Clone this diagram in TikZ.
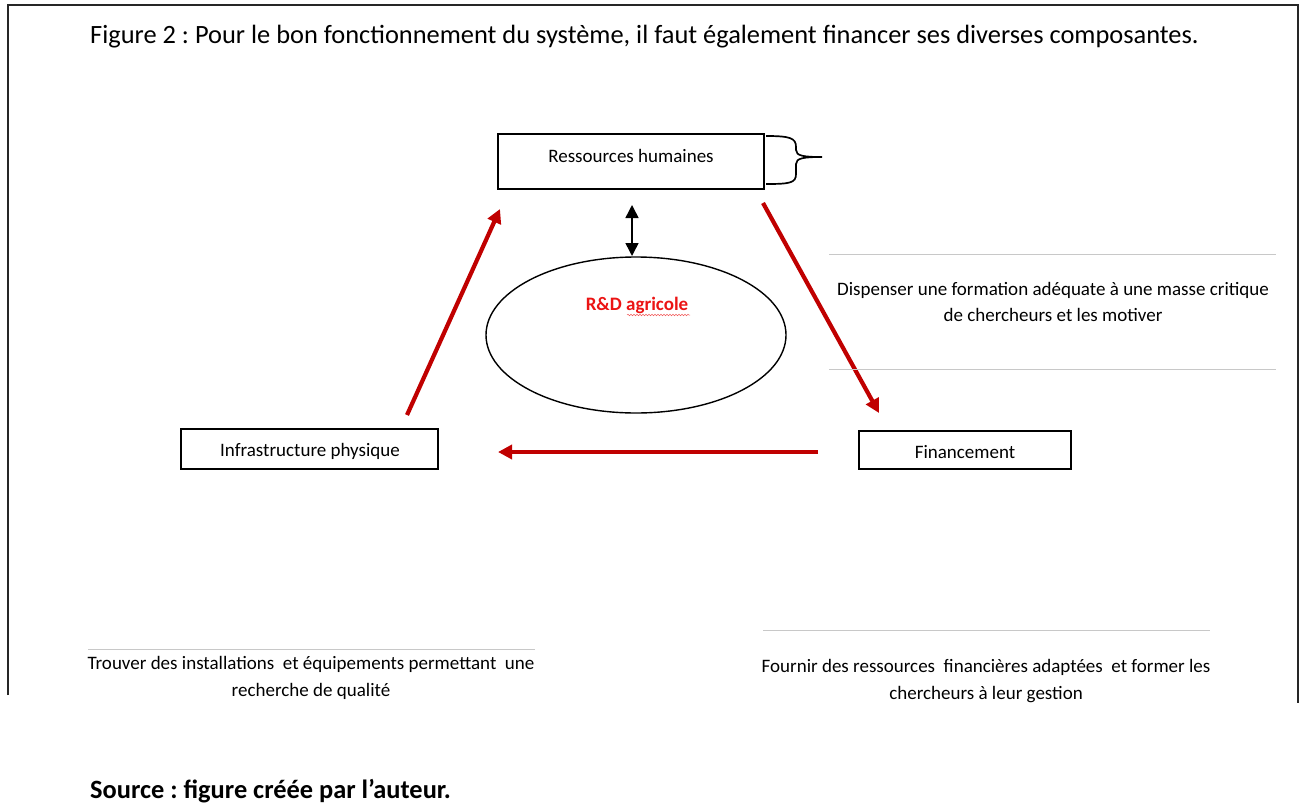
\documentclass[tikz,border=0pt]{standalone}
\usepackage{fontspec}
\setmainfont{Carlito}
\usetikzlibrary{arrows.meta,shapes.geometric,decorations.pathmorphing}
\definecolor{arrred}{RGB}{192,0,0}
\definecolor{txtred}{RGB}{235,20,20}
\definecolor{rulegray}{RGB}{200,200,200}
\frenchspacing
\tikzset{
  boxnode/.style={draw=black, line width=1.2pt, rectangle, inner sep=0pt},
  lbl/.style={font=\fontsize{19}{22}\selectfont, inner sep=0pt},
  desc/.style={font=\fontsize{19}{26.5}\selectfont, align=center, inner sep=0pt},
  redarrow/.style={draw=arrred, line width=4.2pt, -{Triangle[length=14pt,width=14pt]}},
  grayrule/.style={draw=rulegray, line width=1pt},
  frameline/.style={draw=black!85, line width=2pt}
}
\begin{document}
\begin{tikzpicture}[x=1pt,y=-1pt]
\useasboundingbox (0,0) rectangle (1305,803);
% frame
\coordinate (fbl) at (8,695);
\coordinate (ftl) at (8,5);
\coordinate (ftr) at (1298,5);
\coordinate (fbr) at (1298,703);
\draw[frameline] (fbl) -- (ftl) -- (ftr) -- (fbr);
% title
\node[anchor=west, font=\fontsize{26.4}{30}\selectfont, inner sep=0pt] (title) at (90,37) {Figure 2 : Pour le bon fonctionnement du système, il faut également financer ses diverses composantes.};
% boxes
\node[boxnode, minimum width=266pt, minimum height=55pt] (rh) at (631,161.5) {};
\node[lbl] (rhtxt) at (631,156) {Ressources humaines};
\node[boxnode, minimum width=212pt, minimum height=38pt] (fin) at (965,450) {};
\node[lbl] (fintxt) at (965,452) {Financement};
\node[boxnode, minimum width=257pt, minimum height=40pt] (inf) at (309.5,449) {};
\node[lbl] (inftxt) at (310,451) {Infrastructure physique};
% ellipse
\node[draw=black, line width=1.4pt, ellipse, minimum width=300pt, minimum height=156pt, inner sep=0pt] (rd) at (636,335) {};
\node[font=\fontsize{19}{22}\selectfont\bfseries, text=txtred, inner sep=0pt] (rdtxt) at (637,305) {R\&D agricole};
\coordinate (wa) at (627,315);
\coordinate (wb) at (690,315);
\draw[txtred!70, line width=0.5pt, decorate, decoration={snake, segment length=3pt, amplitude=0.8pt}] (wa) -- (wb);
% brace
\coordinate (brtop) at (766,136);
\coordinate (brtip) at (822,157);
\coordinate (brbot) at (766,184);
\draw[black, line width=1.7pt] (brtop) .. controls (790,136) and (796,138) .. (796,147) -- (796,150) .. controls (796,156) and (804,157) .. (brtip)
  .. controls (804,157) and (796,158) .. (796,164) -- (796,174) .. controls (796,183) and (790,184) .. (brbot);
% double arrow
\coordinate (da1) at (632,205);
\coordinate (da2) at (632,256);
\draw[black, line width=1.5pt, {Triangle[length=13pt,width=13pt]}-{Triangle[length=13pt,width=13pt]}] (da1) -- (da2);
% red arrows
\coordinate (a1s) at (763,203);
\coordinate (a1e) at (879,413);
\draw[redarrow] (a1s) -- (a1e);
\coordinate (a2s) at (818,452);
\coordinate (a2e) at (498,452);
\draw[redarrow] (a2s) -- (a2e);
\coordinate (a3s) at (407,415);
\coordinate (a3e) at (500,209);
\draw[redarrow] (a3s) -- (a3e);
% gray rules
\coordinate (g1a) at (829,254); \coordinate (g1b) at (1276,254);
\coordinate (g2a) at (829,369); \coordinate (g2b) at (1276,369);
\coordinate (g3a) at (88,649); \coordinate (g3b) at (535,649);
\coordinate (g4a) at (763,630); \coordinate (g4b) at (1210,630);
\draw[grayrule] (g1a) -- (g1b);
\draw[grayrule] (g2a) -- (g2b);
\draw[grayrule] (g3a) -- (g3b);
\draw[grayrule] (g4a) -- (g4b);
% descriptions
\node[desc] (d1) at (1053,302) {Dispenser une formation adéquate à une masse critique\\de chercheurs et les motiver};
\node[desc] (d2) at (311,678) {Trouver des installations\ \ et équipements permettant\ \ une\\recherche de qualité};
\node[desc] (d3) at (986,681) {Fournir des ressources\ \ financières adaptées\ \ et former les\\chercheurs à leur gestion};
% source
\node[anchor=west, font=\fontsize{26.4}{30}\selectfont\bfseries, inner sep=0pt] (src) at (90,791) {Source : figure créée par l’auteur.};
\end{tikzpicture}
\end{document}
